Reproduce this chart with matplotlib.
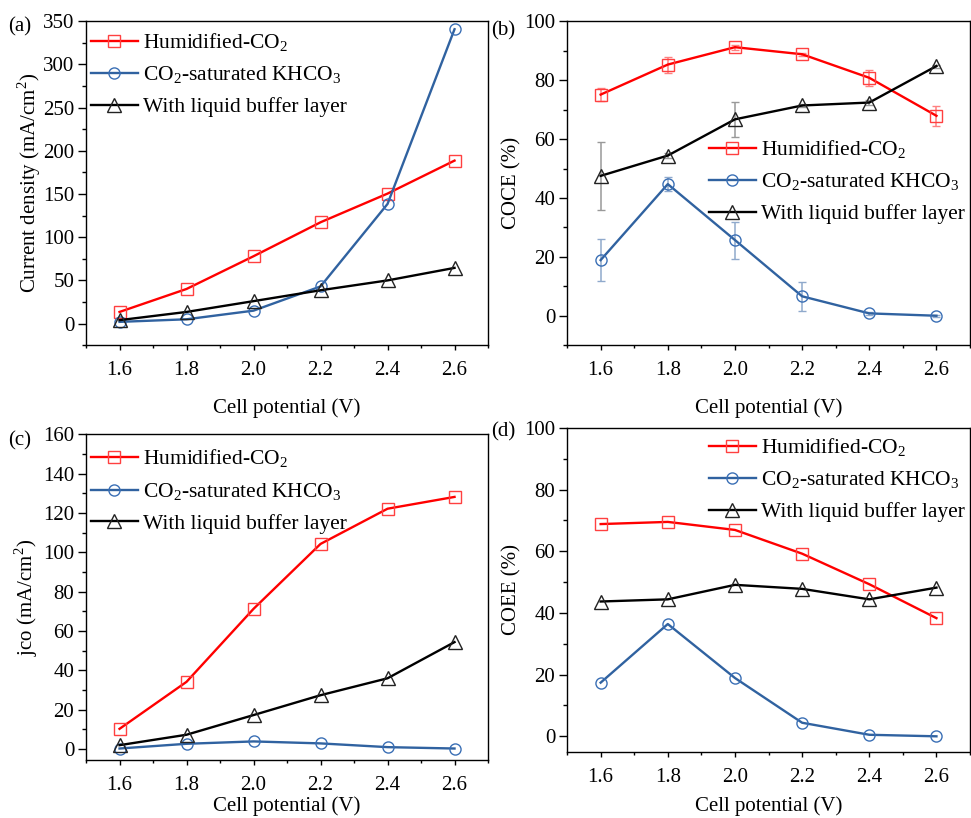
import matplotlib
matplotlib.use("Agg")
import matplotlib.pyplot as plt
from matplotlib.ticker import MultipleLocator

plt.rcParams['font.family'] = ['Liberation Serif', 'DejaVu Serif']
plt.rcParams['mathtext.fontset'] = 'custom'
plt.rcParams['mathtext.rm'] = 'Liberation Serif'
plt.rcParams['font.size'] = 15

potential = [1.6, 1.8, 2.0, 2.2, 2.4, 2.6]
labels = ['Humidified-CO$_2$', 'CO$_2$-saturated KHCO$_3$', 'With liquid buffer layer']

# (a) current density
cd_humid = [13.5, 40.1, 78, 117.3, 150.5, 188.7]
cd_khco3 = [2, 5, 15, 43, 138.5, 340.8]
cd_buffer = [4, 13.5, 26, 38.6, 50, 64.5]

# (b) COCE with error bars
coce_humid = [75.1, 85.3, 91.2, 88.8, 80.8, 67.9]
coce_humid_err = [2.3, 2.7, 0.8, 0.5, 2.8, 3.3]
coce_khco3 = [18.9, 44.7, 25.7, 6.6, 0.8, 0.0]
coce_khco3_err = [7.0, 2.3, 6.3, 5.0, 0.5, 0.3]
coce_buffer = [47.5, 54.4, 66.7, 71.4, 72.4, 84.8]
coce_buffer_err = [11.5, 1.0, 6.0, 0.5, 1.0, 0.5]

# (c) jco
jco_humid = [10.3, 34.2, 71.3, 104.3, 122.2, 128.2]
jco_khco3 = [0.3, 2.7, 3.9, 2.9, 1.0, 0.3]
jco_buffer = [2, 7.3, 17.3, 27.4, 36, 54.4]

# (d) COEE
coee_humid = [68.8, 69.5, 66.9, 59.2, 49.3, 38.3]
coee_khco3 = [17.4, 36.4, 18.9, 4.4, 0.5, 0.0]
coee_buffer = [43.7, 44.4, 49.1, 47.8, 44.4, 48.2]

red = '#ff0000'
blue = '#3062a0'
black = '#000000'
styles = [dict(color=red, marker='s', mec='#ff4040', ms=8),
          dict(color=blue, marker='o', mec='#3a6fb5', ms=8),
          dict(color=black, marker='^', mec='#222222', ms=9.5)]
err_cols = ['#ff8080', '#8fa9cc', '#999999']

fig = plt.figure(figsize=(9.71, 8.18), dpi=100)
axa = fig.add_axes([0.0886, 0.578, 0.414, 0.396])
axb = fig.add_axes([0.584, 0.578, 0.415, 0.396])
axc = fig.add_axes([0.0886, 0.071, 0.414, 0.398])
axd = fig.add_axes([0.584, 0.081, 0.415, 0.396])

leg_kw = dict(frameon=False, fontsize=15.5, handlelength=2.2, labelspacing=0.5,
              handletextpad=0.25, borderaxespad=0.0)


def draw(ax, series, errs=None):
    for i, ys in enumerate(series):
        st = styles[i]
        if errs is not None:
            ax.errorbar(potential, ys, yerr=errs[i], fmt='none', ecolor=err_cols[i],
                        elinewidth=1.1, capsize=3, zorder=2)
        ax.plot(potential, ys, color=st['color'], marker=st['marker'], lw=1.7,
                ms=st['ms'], mfc='none', mec=st['mec'], mew=1.0, label=labels[i], zorder=3)
    ax.set_xlim(1.5, 2.7)
    ax.xaxis.set_major_locator(MultipleLocator(0.2))
    ax.xaxis.set_minor_locator(MultipleLocator(0.1))
    ax.tick_params(axis='x', which='major', direction='out', length=3.5, width=1,
                   pad=8, labelsize=15)
    ax.tick_params(axis='x', which='minor', direction='out', length=2.2, width=1)
    ax.tick_params(axis='y', which='major', direction='out', length=6, width=1,
                   pad=2.5, labelsize=15)
    ax.tick_params(axis='y', which='minor', direction='out', length=3, width=1)
    for s in ax.spines.values():
        s.set_linewidth(1.0)


draw(axa, [cd_humid, cd_khco3, cd_buffer])
axa.set_ylim(-25, 350)
axa.yaxis.set_major_locator(MultipleLocator(50))
axa.yaxis.set_minor_locator(MultipleLocator(25))
axa.set_ylabel('Current density (mA/cm$^2$)', fontsize=15, labelpad=0)
axa.set_xlabel('Cell potential (V)', fontsize=15, labelpad=13)
axa.legend(loc='upper left', bbox_to_anchor=(-0.01, 0.995), **leg_kw)

draw(axb, [coce_humid, coce_khco3, coce_buffer],
     [coce_humid_err, coce_khco3_err, coce_buffer_err])
axb.set_ylim(-10, 100)
axb.yaxis.set_major_locator(MultipleLocator(20))
axb.yaxis.set_minor_locator(MultipleLocator(10))
axb.set_ylabel('COCE (%)', fontsize=15, labelpad=2)
axb.set_xlabel('Cell potential (V)', fontsize=15, labelpad=13)
axb.legend(loc='upper left', bbox_to_anchor=(0.33, 0.665), **leg_kw)

draw(axc, [jco_humid, jco_khco3, jco_buffer])
axc.set_ylim(-5.5, 160)
axc.yaxis.set_major_locator(MultipleLocator(20))
axc.yaxis.set_minor_locator(MultipleLocator(10))
axc.set_ylabel('jco (mA/cm$^2$)', fontsize=15, labelpad=2)
axc.set_xlabel('Cell potential (V)', fontsize=15, labelpad=1)
axc.legend(loc='upper left', bbox_to_anchor=(-0.01, 0.985), **leg_kw)

draw(axd, [coee_humid, coee_khco3, coee_buffer])
axd.set_ylim(-5, 100)
axd.yaxis.set_major_locator(MultipleLocator(20))
axd.yaxis.set_minor_locator(MultipleLocator(10))
axd.set_ylabel('COEE (%)', fontsize=15, labelpad=2)
axd.set_xlabel('Cell potential (V)', fontsize=15, labelpad=7)
axd.legend(loc='upper left', bbox_to_anchor=(0.33, 1.0), **leg_kw)

fig.text(0.008, 0.962, '(a)', fontsize=15)
fig.text(0.506, 0.957, '(b)', fontsize=15)
fig.text(0.008, 0.455, '(c)', fontsize=15)
fig.text(0.506, 0.466, '(d)', fontsize=15)

fig.savefig('out.png', dpi=100)
